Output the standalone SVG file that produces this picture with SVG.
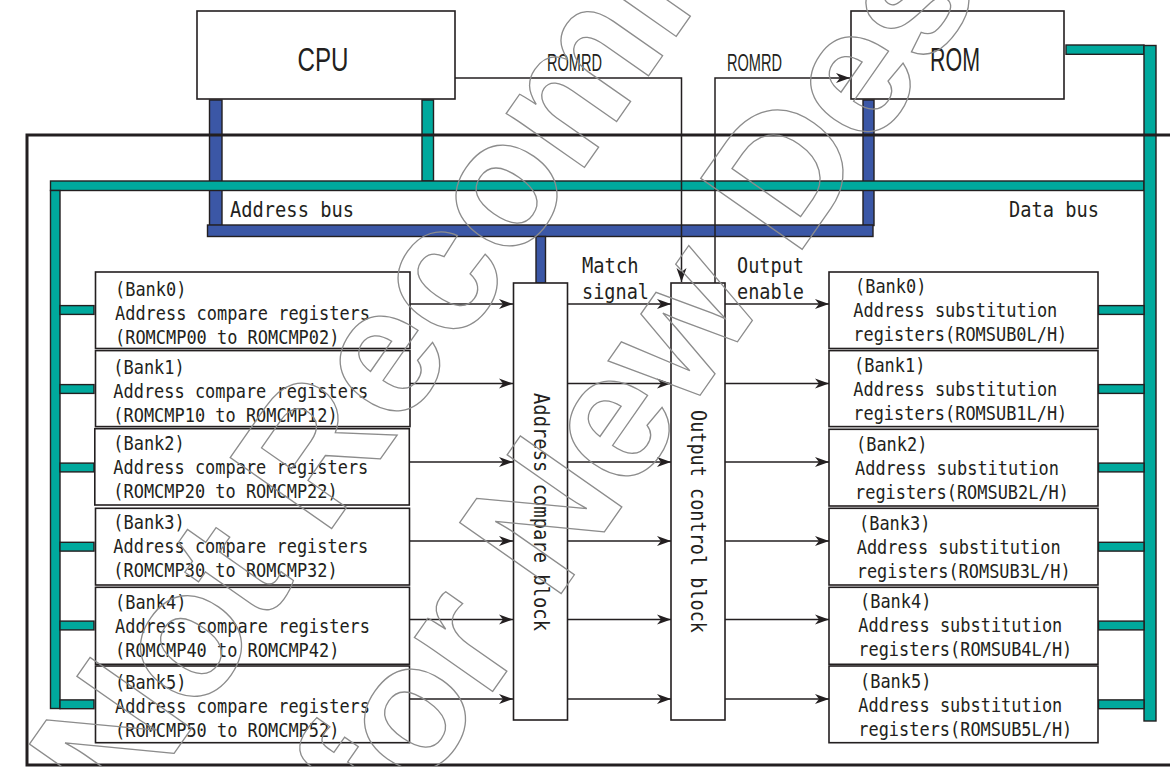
<svg xmlns="http://www.w3.org/2000/svg" width="1170" height="767" viewBox="0 0 1170 767">
<defs>
<style>
.box{fill:#fff;stroke:#231f20;stroke-width:1.6}
.teal{fill:#00a99d;stroke:#231f20;stroke-width:1.4}
.blue{fill:#3b57a6;stroke:#231f20;stroke-width:1.4}
.wire{fill:none;stroke:#231f20;stroke-width:1.5}
.mono{font-family:"DejaVu Sans Mono","Liberation Mono",monospace;fill:#231f20}
.t19{font-size:19px}
.t21{font-size:21px}
.t22{font-size:22px}
.sans{font-family:"Liberation Sans",Arial,sans-serif;fill:#231f20}
.wm{font-family:"Liberation Sans",Arial,sans-serif;font-weight:bold;font-size:180px;fill:none;stroke:#8c8c8c;stroke-width:1.3}
</style>
<marker id="ah" markerWidth="15" markerHeight="12" refX="14" refY="6" orient="auto" markerUnits="userSpaceOnUse"><path d="M0,1 L14,6 L0,11 L4,6 Z" fill="#231f20"/></marker>
</defs>
<rect width="1170" height="767" fill="#fff"/>

<g id="buses">
<rect class="blue" x="209.5" y="100" width="12.5" height="125.5"/>
<rect class="blue" x="863" y="100" width="11" height="125.5"/>
<rect class="blue" x="207.5" y="225" width="665.5" height="11.5"/>
<rect class="blue" x="536" y="236.5" width="9.5" height="46.5"/>
<rect class="teal" x="422" y="100" width="11.5" height="81"/>
<rect class="teal" x="50.5" y="181" width="1093.5" height="9.5"/>
<rect class="teal" x="50.5" y="190.5" width="9.5" height="518"/>
<rect class="teal" x="60" y="305.6" width="34" height="8.8"/>
<rect class="teal" x="60" y="384.6" width="34" height="8.8"/>
<rect class="teal" x="60" y="463.1" width="34" height="8.8"/>
<rect class="teal" x="60" y="542.3" width="34" height="8.8"/>
<rect class="teal" x="60" y="621.1" width="34" height="8.8"/>
<rect class="teal" x="60" y="699.9" width="34" height="8.8"/>
<rect class="teal" x="1066" y="45" width="78" height="9.3"/>
<rect class="teal" x="1144" y="45.5" width="12" height="675.5"/>
<rect class="teal" x="1098.5" y="305.6" width="45.5" height="8.8"/>
<rect class="teal" x="1098.5" y="384.6" width="45.5" height="8.8"/>
<rect class="teal" x="1098.5" y="463.1" width="45.5" height="8.8"/>
<rect class="teal" x="1098.5" y="542.3" width="45.5" height="8.8"/>
<rect class="teal" x="1098.5" y="621.1" width="45.5" height="8.8"/>
<rect class="teal" x="1098.5" y="699.9" width="45.5" height="8.8"/>
<path d="M1172,135 H27 V765 H1172" fill="none" stroke="#231f20" stroke-width="3"/>
<text class="mono" font-size="21" x="230" y="216.5" textLength="124" lengthAdjust="spacingAndGlyphs">Address bus</text>
<text class="mono" font-size="21" x="1009" y="216.5" textLength="90" lengthAdjust="spacingAndGlyphs">Data bus</text>
</g>

<g id="cpu">
<rect class="box" x="197" y="11" width="258" height="88"/>
<text class="sans" font-size="34" x="323" y="71" text-anchor="middle" textLength="51" lengthAdjust="spacingAndGlyphs">CPU</text>
</g>
<g id="rom">
<rect class="box" x="851" y="11" width="213" height="88"/>
<text class="sans" font-size="34" x="955" y="71" text-anchor="middle" textLength="50" lengthAdjust="spacingAndGlyphs">ROM</text>
</g>

<g id="cmp0">
<rect class="box" x="95.5" y="272" width="314.5" height="76.5"/>
<text class="mono t19" x="115" y="295.5" textLength="71.4" lengthAdjust="spacingAndGlyphs">(Bank0)</text>
<text class="mono t19" x="115" y="320" textLength="255" lengthAdjust="spacingAndGlyphs">Address compare registers</text>
<text class="mono t19" x="115" y="343.8" textLength="224.4" lengthAdjust="spacingAndGlyphs">(ROMCMP00 to ROMCMP02)</text>
</g>
<g id="cmp1">
<rect class="box" x="95.5" y="350.6" width="314.5" height="76"/>
<text class="mono t19" x="113.3" y="373.6" textLength="71.4" lengthAdjust="spacingAndGlyphs">(Bank1)</text>
<text class="mono t19" x="113.3" y="397.7" textLength="255" lengthAdjust="spacingAndGlyphs">Address compare registers</text>
<text class="mono t19" x="113.3" y="421.7" textLength="224.4" lengthAdjust="spacingAndGlyphs">(ROMCMP10 to ROMCMP12)</text>
</g>
<g id="cmp2">
<rect class="box" x="94.8" y="428.7" width="314.5" height="76.3"/>
<text class="mono t19" x="113.3" y="450.3" textLength="71.4" lengthAdjust="spacingAndGlyphs">(Bank2)</text>
<text class="mono t19" x="113.3" y="474.3" textLength="255" lengthAdjust="spacingAndGlyphs">Address compare registers</text>
<text class="mono t19" x="113.3" y="498.3" textLength="224.4" lengthAdjust="spacingAndGlyphs">(ROMCMP20 to ROMCMP22)</text>
</g>
<g id="cmp3">
<rect class="box" x="95.5" y="508.3" width="314" height="76.7"/>
<text class="mono t19" x="113.3" y="529.3" textLength="71.4" lengthAdjust="spacingAndGlyphs">(Bank3)</text>
<text class="mono t19" x="113.3" y="553.3" textLength="255" lengthAdjust="spacingAndGlyphs">Address compare registers</text>
<text class="mono t19" x="113.3" y="577.3" textLength="224.4" lengthAdjust="spacingAndGlyphs">(ROMCMP30 to ROMCMP32)</text>
</g>
<g id="cmp4">
<rect class="box" x="95.5" y="587.3" width="314" height="77"/>
<text class="mono t19" x="115" y="609.3" textLength="71.4" lengthAdjust="spacingAndGlyphs">(Bank4)</text>
<text class="mono t19" x="115" y="633.3" textLength="255" lengthAdjust="spacingAndGlyphs">Address compare registers</text>
<text class="mono t19" x="115" y="657.3" textLength="224.4" lengthAdjust="spacingAndGlyphs">(ROMCMP40 to ROMCMP42)</text>
</g>
<g id="cmp5">
<rect class="box" x="95.5" y="666" width="314" height="76.7"/>
<text class="mono t19" x="115" y="688.7" textLength="71.4" lengthAdjust="spacingAndGlyphs">(Bank5)</text>
<text class="mono t19" x="115" y="712.7" textLength="255" lengthAdjust="spacingAndGlyphs">Address compare registers</text>
<text class="mono t19" x="115" y="736.7" textLength="224.4" lengthAdjust="spacingAndGlyphs">(ROMCMP50 to ROMCMP52)</text>
</g>

<g id="compare-block">
<rect class="box" x="513.5" y="283" width="54" height="437"/>
<text class="mono t21" transform="translate(534,393) rotate(90)" textLength="238" lengthAdjust="spacingAndGlyphs">Address compare block</text>
</g>
<g id="output-block">
<rect class="box" x="671" y="283" width="54" height="437"/>
<text class="mono t21" transform="translate(690.5,410) rotate(90)" textLength="223" lengthAdjust="spacingAndGlyphs">Output control block</text>
</g>

<g id="sub0">
<rect class="box" x="829" y="272" width="269" height="76.5"/>
<text class="mono t19" x="855" y="292.7" textLength="71.4" lengthAdjust="spacingAndGlyphs">(Bank0)</text>
<text class="mono t19" x="853.3" y="316.7" textLength="204" lengthAdjust="spacingAndGlyphs">Address substitution</text>
<text class="mono t19" x="853.3" y="340.7" textLength="214" lengthAdjust="spacingAndGlyphs">registers(ROMSUB0L/H)</text>
</g>
<g id="sub1">
<rect class="box" x="829" y="350.6" width="269" height="76"/>
<text class="mono t19" x="854" y="372" textLength="71.4" lengthAdjust="spacingAndGlyphs">(Bank1)</text>
<text class="mono t19" x="853.3" y="396" textLength="204" lengthAdjust="spacingAndGlyphs">Address substitution</text>
<text class="mono t19" x="853.3" y="420" textLength="214" lengthAdjust="spacingAndGlyphs">registers(ROMSUB1L/H)</text>
</g>
<g id="sub2">
<rect class="box" x="829" y="429.3" width="269" height="76.7"/>
<text class="mono t19" x="856" y="451" textLength="71.4" lengthAdjust="spacingAndGlyphs">(Bank2)</text>
<text class="mono t19" x="855" y="475" textLength="204" lengthAdjust="spacingAndGlyphs">Address substitution</text>
<text class="mono t19" x="855" y="499" textLength="214" lengthAdjust="spacingAndGlyphs">registers(ROMSUB2L/H)</text>
</g>
<g id="sub3">
<rect class="box" x="829" y="508.3" width="269" height="76.7"/>
<text class="mono t19" x="859" y="530.3" textLength="71.4" lengthAdjust="spacingAndGlyphs">(Bank3)</text>
<text class="mono t19" x="856.7" y="554.3" textLength="204" lengthAdjust="spacingAndGlyphs">Address substitution</text>
<text class="mono t19" x="856.7" y="578.3" textLength="214" lengthAdjust="spacingAndGlyphs">registers(ROMSUB3L/H)</text>
</g>
<g id="sub4">
<rect class="box" x="829" y="587.3" width="269" height="77"/>
<text class="mono t19" x="860" y="607.7" textLength="71.4" lengthAdjust="spacingAndGlyphs">(Bank4)</text>
<text class="mono t19" x="858.3" y="631.7" textLength="204" lengthAdjust="spacingAndGlyphs">Address substitution</text>
<text class="mono t19" x="858.3" y="655.7" textLength="214" lengthAdjust="spacingAndGlyphs">registers(ROMSUB4L/H)</text>
</g>
<g id="sub5">
<rect class="box" x="829" y="666" width="269" height="76.7"/>
<text class="mono t19" x="860" y="688.3" textLength="71.4" lengthAdjust="spacingAndGlyphs">(Bank5)</text>
<text class="mono t19" x="858.3" y="712.3" textLength="204" lengthAdjust="spacingAndGlyphs">Address substitution</text>
<text class="mono t19" x="858.3" y="736.3" textLength="214" lengthAdjust="spacingAndGlyphs">registers(ROMSUB5L/H)</text>
</g>

<g id="connectors">
<path class="wire" d="M455,78 H681.5 V282" marker-end="url(#ah)"/>
<path class="wire" d="M715,283 V78 H850" marker-end="url(#ah)"/>
<text class="sans" font-size="23" x="547" y="71" textLength="55" lengthAdjust="spacingAndGlyphs">ROMRD</text>
<text class="sans" font-size="23" x="727" y="71" textLength="55" lengthAdjust="spacingAndGlyphs">ROMRD</text>
<text class="mono t22" x="582" y="273" textLength="56.5" lengthAdjust="spacingAndGlyphs">Match</text>
<text class="mono t22" x="582" y="299" textLength="67" lengthAdjust="spacingAndGlyphs">signal</text>
<text class="mono t22" x="737" y="272.5" textLength="67" lengthAdjust="spacingAndGlyphs">Output</text>
<text class="mono t22" x="737" y="299" textLength="67" lengthAdjust="spacingAndGlyphs">enable</text>
<path class="wire" d="M410,304 H513" marker-end="url(#ah)"/>
<path class="wire" d="M410,383.5 H513" marker-end="url(#ah)"/>
<path class="wire" d="M410,462 H513" marker-end="url(#ah)"/>
<path class="wire" d="M410,541 H513" marker-end="url(#ah)"/>
<path class="wire" d="M410,619.5 H513" marker-end="url(#ah)"/>
<path class="wire" d="M410,699 H513" marker-end="url(#ah)"/>
<path class="wire" d="M568,304 H671" marker-end="url(#ah)"/>
<path class="wire" d="M568,383.5 H671" marker-end="url(#ah)"/>
<path class="wire" d="M568,462 H671" marker-end="url(#ah)"/>
<path class="wire" d="M568,541 H671" marker-end="url(#ah)"/>
<path class="wire" d="M568,619.5 H671" marker-end="url(#ah)"/>
<path class="wire" d="M568,699 H671" marker-end="url(#ah)"/>
<path class="wire" d="M725,304 H829" marker-end="url(#ah)"/>
<path class="wire" d="M725,383.5 H829" marker-end="url(#ah)"/>
<path class="wire" d="M725,462 H829" marker-end="url(#ah)"/>
<path class="wire" d="M725,541 H829" marker-end="url(#ah)"/>
<path class="wire" d="M725,619.5 H829" marker-end="url(#ah)"/>
<path class="wire" d="M725,699 H829" marker-end="url(#ah)"/>
</g>

<g id="watermark">
<text class="wm" x="124" y="825" transform="rotate(-55 124 825)">Not Recommended</text>
<text class="wm" x="388" y="841" transform="rotate(-55 388 841)">for New Design</text>
</g>
</svg>
